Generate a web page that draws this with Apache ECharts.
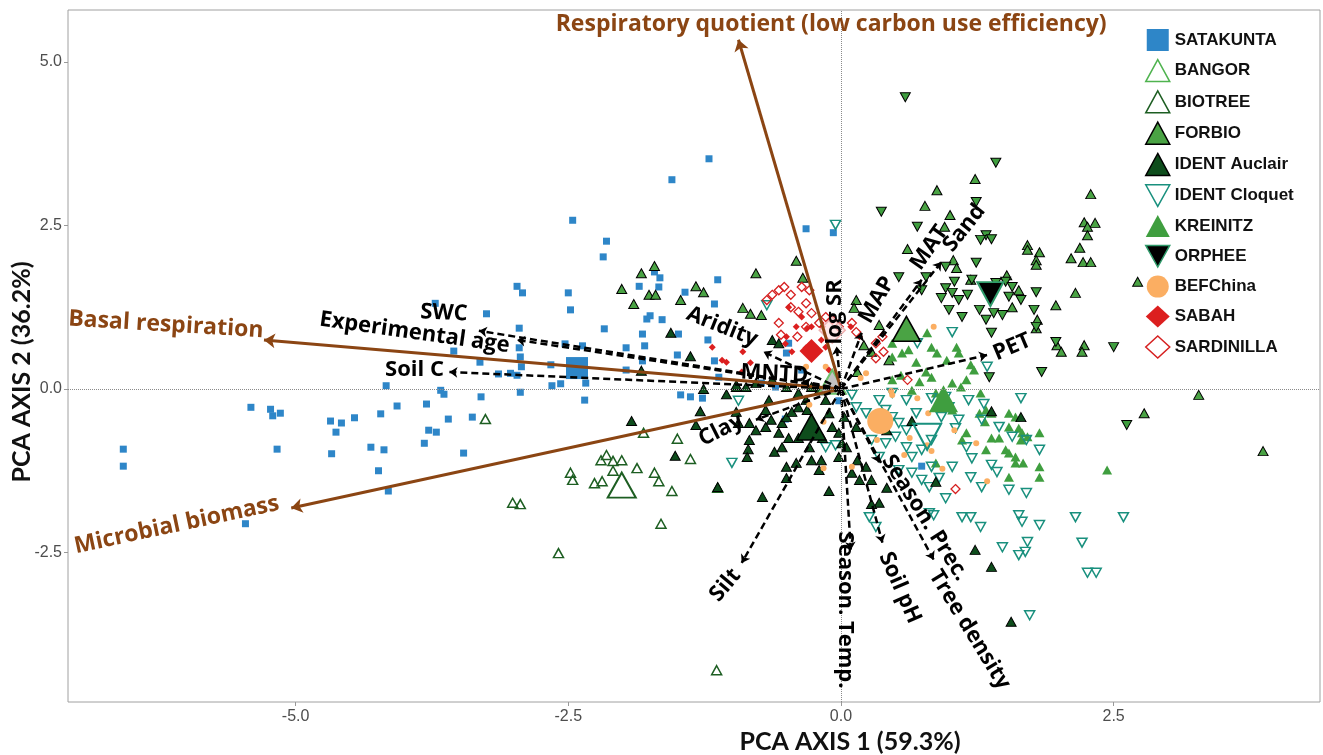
<!DOCTYPE html>
<html><head><meta charset="utf-8">
<script src="https://cdn.jsdelivr.net/npm/echarts@6/dist/echarts.min.js"></script>
<style>html,body{margin:0;padding:0;background:#fff}#c{width:1323px;height:755px}</style>
</head><body><div id="c"></div>
<script>
// ---------- data (PCA scores) ----------
const SATAKUNTA = [[-3.72,1.31],[-3.25,1.15],[-3.55,0.58],[-3.31,0.41],[-4.17,0.05],[-3.67,-0.02],[-3.64,-0.08],[-3.30,-0.12],[-5.41,-0.28],[-5.23,-0.31],[-5.21,-0.41],[-5.14,-0.37],[-4.68,-0.49],[-4.58,-0.52],[-4.63,-0.66],[-4.46,-0.44],[-4.22,-0.38],[-4.07,-0.26],[-3.80,-0.23],[-3.60,-0.46],[-3.38,-0.43],[-3.78,-0.63],[-3.71,-0.66],[-3.82,-0.83],[-3.46,-0.98],[-4.31,-0.89],[-4.19,-0.93],[-4.67,-0.99],[-5.17,-0.92],[-6.58,-0.92],[-6.58,-1.18],[-4.24,-1.25],[-4.15,-1.56],[-5.46,-2.06],[-1.21,3.52],[-1.55,3.20],[-2.46,2.58],[-2.15,2.26],[-2.18,2.02],[-2.97,1.57],[-2.92,1.47],[-2.50,1.47],[-2.48,1.21],[-2.95,0.93],[-2.17,0.92],[-1.85,1.57],[-1.71,1.79],[-1.66,1.70],[-1.67,1.56],[-1.78,1.07],[-1.75,1.12],[-1.64,1.06],[-1.82,0.84],[-1.80,0.66],[-1.97,0.63],[-1.43,1.48],[-1.13,1.67],[-1.16,1.30],[-1.49,0.84],[-1.50,0.52],[-1.22,0.75],[-1.16,0.43],[-0.32,2.45],[-0.07,2.39],[-2.95,0.63],[-2.94,0.49],[-3.14,0.23],[-3.03,0.24],[-2.97,0.21],[-2.93,0.34],[-2.66,0.37],[-2.53,0.69],[-2.37,0.66],[-2.57,0.08],[-2.65,0.05],[-2.34,0.09],[-2.94,-0.05],[-1.97,0.29],[-1.82,0.43],[-2.35,-0.17],[-1.47,-0.09],[-1.38,-0.12],[-1.27,-0.14],[-1.12,0.18],[-0.50,0.55],[-0.48,0.70],[-0.36,0.29],[-0.73,0.09],[-0.60,0.03],[-0.51,-0.46],[-0.02,-0.18],[0.74,-1.18]];
const BANGOR = [];
const BIOTREE = [[-3.26,-0.46],[-1.81,-0.67],[-1.50,-0.76],[-1.38,-1.07],[-2.15,-1.01],[-2.20,-1.09],[-2.09,-1.10],[-2.01,-1.09],[-2.48,-1.28],[-2.46,-1.39],[-2.09,-1.25],[-2.26,-1.44],[-2.19,-1.41],[-1.87,-1.21],[-1.71,-1.28],[-1.67,-1.41],[-1.55,-1.56],[-3.01,-1.74],[-2.94,-1.76],[-1.65,-2.06],[-2.59,-2.51],[-1.14,-4.30],[-1.13,-1.51]];
const FORBIO = [[-1.83,1.77],[-1.71,1.88],[-2.01,1.53],[-1.76,1.44],[-1.70,1.44],[-1.90,1.30],[-1.33,1.57],[-1.26,1.48],[-1.47,1.36],[-0.78,1.77],[-0.41,1.96],[-0.35,1.70],[-0.90,1.24],[-0.83,1.15],[-0.73,1.13],[1.23,3.21],[0.88,3.04],[0.77,2.80],[1.00,2.66],[0.95,2.48],[0.61,2.14],[2.29,2.98],[2.23,2.55],[2.33,2.54],[2.26,2.48],[2.26,2.35],[1.71,2.20],[1.71,2.13],[1.82,2.09],[1.79,1.97],[1.79,1.90],[2.19,2.16],[2.11,2.00],[2.22,1.94],[2.29,1.94],[1.03,1.97],[1.06,1.85],[1.52,1.74],[1.63,1.51],[1.57,1.25],[1.97,1.28],[2.15,1.47],[2.72,1.64],[0.14,1.36],[0.12,1.24],[0.35,0.98],[1.19,1.67],[2.23,0.67],[2.21,0.57],[1.98,0.67],[2.02,0.57],[3.28,-0.09],[1.80,1.06],[1.79,0.93],[2.78,-0.37],[3.87,-0.95],[0.21,0.67],[0.28,0.57],[0.44,0.44],[0.15,0.26]];
const IDENT_AUCLAIR = [[-1.56,0.86],[-1.38,0.50],[-1.83,0.28],[-1.26,0.00],[-1.92,-0.49],[-1.33,-0.55],[-1.29,-0.34],[-1.05,-0.08],[-0.96,0.03],[-1.52,-1.02],[-1.13,-1.50],[-0.85,-0.92],[-0.72,-1.65],[-0.11,-1.56],[-0.94,-0.52],[-0.84,-0.52],[-0.78,-0.63],[-0.69,-0.58],[-0.64,-0.47],[-0.54,-0.52],[-0.50,-0.43],[-0.45,-0.35],[-0.39,-0.28],[-0.32,-0.17],[-0.20,-0.02],[-0.31,-0.32],[-0.57,-0.67],[-0.54,-0.89],[-0.61,-0.96],[-0.84,-0.78],[-0.86,-1.04],[-0.50,-1.19],[-0.50,-1.36],[-0.41,-1.13],[-0.27,-1.09],[-0.18,-1.09],[-0.20,-1.24],[-0.29,-0.89],[-0.17,-0.75],[-0.08,-0.58],[-0.02,-0.67],[0.01,-0.83],[-0.02,-1.04],[0.05,-0.89],[0.15,-1.09],[0.10,-1.28],[0.17,-1.39],[0.23,-1.19],[0.28,-1.39],[0.35,-1.74],[-0.11,-0.37],[-0.69,-0.32],[-0.66,-0.17],[-0.96,-0.35],[-0.48,-0.75],[-0.39,-0.75],[-0.14,-0.17],[0.03,-0.43],[0.14,-0.58],[0.35,-0.55],[0.42,-0.63],[1.38,-0.34],[1.65,-0.43],[1.23,-2.46],[1.38,-2.72],[1.56,-3.56],[0.42,-1.51],[0.28,-1.76],[0.87,-1.42],[0.65,-0.49],[-0.96,0.06],[-0.87,0.03],[-0.78,0.09],[-0.63,0.14],[-0.50,0.03],[-0.39,-0.06],[-0.27,0.03],[-0.63,0.75],[-0.57,0.70]];
const IDENT_CLOQUET = [[-0.05,2.51],[-0.68,1.28],[0.70,0.70],[1.02,0.87],[1.34,0.34],[-1.00,-1.13],[-0.94,-0.18],[-0.05,-0.86],[-0.14,-0.89],[0.26,-1.96],[0.32,-2.11],[0.14,-0.28],[0.23,-0.37],[0.35,-0.17],[0.41,-0.32],[0.47,-0.43],[0.53,-0.52],[0.60,-0.63],[0.50,-0.73],[0.41,-0.83],[0.60,-0.89],[0.65,-1.04],[0.74,-0.93],[0.83,-0.78],[0.28,-0.78],[0.35,-1.04],[0.53,-1.24],[0.65,-1.28],[0.74,-1.39],[0.81,-1.50],[0.83,-1.19],[0.81,-1.90],[0.10,-0.09],[0.83,-0.14],[0.96,-0.12],[1.17,-0.17],[1.29,-0.47],[1.45,-0.58],[1.57,-0.73],[1.82,-0.93],[1.65,-0.14],[0.99,-0.28],[1.08,-0.47],[0.69,-0.37],[0.60,-0.17],[0.47,-0.06],[1.31,-0.23],[0.92,-0.43],[1.05,-0.60],[1.15,-0.89],[1.20,-1.06],[1.38,-1.16],[1.43,-1.27],[1.70,-0.78],[1.02,-1.19],[1.19,-1.35],[1.29,-1.50],[1.54,-1.54],[1.70,-1.59],[0.90,-1.36],[0.96,-1.67],[1.11,-1.96],[1.19,-1.96],[1.28,-2.11],[1.63,-1.93],[1.66,-2.03],[1.82,-2.08],[1.48,-2.42],[1.71,-2.34],[1.69,-2.49],[1.63,-2.54],[2.15,-1.96],[2.59,-1.96],[2.21,-2.35],[2.26,-2.81],[2.34,-2.81],[1.73,-3.46],[0.85,-1.93]];
const KREINITZ = [[0.47,0.70],[0.56,0.55],[0.62,0.60],[0.79,0.86],[0.83,0.64],[0.88,0.55],[1.06,0.64],[1.08,0.55],[1.19,0.37],[1.22,0.29],[0.97,0.44],[0.78,0.26],[0.83,0.18],[0.69,0.41],[1.02,0.09],[1.10,0.03],[1.15,0.14],[1.28,-0.06],[1.33,-0.32],[1.38,-0.37],[1.54,-0.37],[1.60,-0.43],[1.63,-0.60],[1.66,-0.67],[1.71,-0.73],[1.82,-0.67],[1.27,-0.37],[0.47,0.49],[0.55,0.21],[0.47,0.14],[0.65,-0.02],[0.72,0.11],[0.87,-0.06],[1.54,-0.98],[1.60,-1.04],[1.38,-0.75],[1.15,-0.67],[1.54,-0.58],[1.45,-0.75],[1.51,-0.93],[1.65,-0.78],[1.33,-0.93],[1.60,-1.13],[1.67,-1.13],[1.82,-1.19],[1.82,-1.35],[1.54,-1.35],[1.32,-0.50],[1.11,-0.78],[1.02,-0.32],[0.96,-0.28],[0.87,-1.13],[2.44,-1.24]];
const ORPHEE = [[0.59,4.46],[1.42,3.46],[0.37,2.71],[0.70,2.48],[1.24,2.86],[1.33,2.35],[1.38,2.29],[1.28,2.28],[0.53,1.71],[0.74,1.51],[1.04,1.64],[0.96,1.54],[1.24,1.93],[1.08,1.36],[1.16,1.44],[0.99,1.21],[1.11,1.10],[1.27,1.21],[1.33,1.06],[1.40,1.16],[1.48,1.13],[1.42,1.62],[1.51,1.64],[1.57,1.56],[1.79,1.48],[1.77,1.21],[1.79,0.95],[1.38,0.86],[1.97,0.72],[2.50,0.64],[1.84,0.26],[1.36,0.18],[0.92,1.39],[1.02,1.47],[0.96,1.87],[0.78,1.71],[1.20,1.67],[1.54,1.41],[1.65,1.36],[2.62,-0.55]];
const BEFCHINA = [[0.85,0.95],[0.23,0.24],[0.18,0.17],[0.46,-0.03],[-0.29,-0.24],[-0.16,-0.50],[-0.16,-1.21],[0.79,-0.86],[1.24,-0.83],[-0.14,0.34],[-0.32,0.34],[0.33,-0.78],[0.63,-0.75],[0.83,-0.95],[0.93,-1.22],[1.34,-1.41],[0.80,-0.37],[0.70,-0.14],[0.47,-0.09],[0.10,-1.19],[0.58,-1.01],[1.04,-0.63]];
const SABAH = [[-0.48,1.25],[-0.36,1.10],[-0.31,0.93],[-0.41,0.95],[-0.27,0.95],[-0.17,0.95],[-0.50,0.80],[-0.32,0.63],[-0.18,0.75],[-0.14,0.64],[0.09,0.95],[0.17,0.80],[-1.09,0.44],[-1.05,0.41],[-0.83,0.40],[-0.91,0.26],[-1.18,0.64],[-0.90,0.57],[-0.51,0.69],[-0.45,0.57],[-0.11,0.29]];
const SARDINILLA = [[-0.68,1.36],[-0.63,1.44],[-0.57,1.51],[-0.52,1.56],[-0.46,1.44],[-0.36,1.56],[-0.29,1.51],[-0.46,1.25],[-0.39,1.18],[-0.32,1.31],[-0.27,1.16],[-0.20,1.01],[-0.14,1.10],[-0.08,1.06],[-0.57,1.01],[-0.55,0.83],[-0.40,0.80],[-0.02,0.95],[0.10,1.01],[0.14,0.87],[0.32,0.70],[0.38,0.80],[0.39,0.57],[0.32,0.47],[-0.32,0.95],[0.61,0.14],[-0.29,0.64],[1.05,-1.53]];

// site centroids
const CENTROID_NAMES = ['SATAKUNTA','BANGOR','BIOTREE','FORBIO','IDENT Auclair','IDENT Cloquet','KREINITZ','ORPHEE','BEFChina','SABAH','SARDINILLA'];
const CENTROIDS = [[-2.42,0.32],[-0.08,0.11],[-2.01,-1.47],[0.60,0.92],[-0.27,-0.58],[0.79,-0.73],[0.94,-0.15],[1.37,1.45],[0.36,-0.49],[-0.27,0.58],[-0.08,0.90]];

// loadings (arrow tips)
const RESPONSE_NAMES = ['Respiratory quotient (low carbon use efficiency)','Basal respiration','Microbial biomass'];
const RESPONSE_TIPS = [[-0.94,5.34],[-5.29,0.75],[-5.04,-1.82]];
const DRIVER_NAMES = ['SWC','Experimental age','Soil C','Aridity','MNTD','log SR','MAP','MAT','Sand','PET','Clay','Silt','Season. Temp.','Soil pH','Season. Prec.','Tree density'];
const DRIVER_TIPS = [[-3.32,0.89],[-2.97,0.75],[-3.59,0.26],[-0.71,0.57],[-0.35,0.12],[-0.04,0.65],[0.19,0.86],[0.74,1.67],[0.92,1.94],[1.34,0.52],[-0.78,-0.47],[-0.91,-2.66],[0.09,-2.46],[0.38,-2.35],[0.35,-1.12],[0.85,-2.61]];

const X_TICKS = [-5, -2.5, 0, 2.5];
const Y_TICKS = [-2.5, 0, 2.5, 5];

// ---------- layout (label placement, not data) ----------
const RESPONSE_LABEL_LAYOUT = [[-0.09,5.58,0],[-6.19,0.98,-0.06],[-6.09,-2.08,0.21]];
const DRIVER_LABEL_LAYOUT = [[-3.64,1.16,-0.05],[-3.91,0.86,-0.14],[-3.91,0.29,0],[-1.09,0.95,-0.38],[-0.61,0.23,-0.05],[-0.06,1.18,1.5708],[0.33,1.36,1.05],[0.81,2.16,0.96],[1.13,2.46,0.9],[1.57,0.64,0.4],[-1.10,-0.63,0.47],[-1.06,-3.00,0.87],[0.04,-3.38,-1.5708],[0.54,-3.04,-1.16],[0.77,-1.97,-1.01],[1.18,-3.68,-1.02]];

const BROWN = '#8b4513';
const T = 'rgba(255,255,255,0)';
const STY = {
  'SATAKUNTA':     {symbol:'rect', rot:0, size:7, c:{color:'#2e86c8'}, cs:22, cc:{color:'#2e86c8'}, lg:{color:'#2e86c8'}},
  'BANGOR':        {symbol:'triangle', rot:0, size:9, c:{color:T,borderColor:'#5cb85c',borderWidth:1.5}, cs:[27,24], cc:{color:'rgba(175,175,175,0.75)',borderColor:'#6cc06a',borderWidth:2}, lg:{color:'#fff',borderColor:'#4fb34f',borderWidth:1.5}},
  'BIOTREE':       {symbol:'triangle', rot:0, size:[10,9], c:{color:T,borderColor:'#1d5e22',borderWidth:1.5}, cs:[28,25], cc:{color:T,borderColor:'#1d5e22',borderWidth:2}, lg:{color:'#fff',borderColor:'#1d5e22',borderWidth:1.5}},
  'FORBIO':        {symbol:'triangle', rot:0, size:[10,9], c:{color:'#4aa344',borderColor:'#000',borderWidth:1}, cs:[28,25], cc:{color:'#4aa344',borderColor:'#000',borderWidth:1.5}, lg:{color:'#4aa344',borderColor:'#000',borderWidth:1.5}},
  'IDENT Auclair': {symbol:'triangle', rot:0, size:[10,9], c:{color:'#0e4d1c',borderColor:'#000',borderWidth:1}, cs:[29,26], cc:{color:'#0e4d1c',borderColor:'#000',borderWidth:1.5}, lg:{color:'#0e4d1c',borderColor:'#000',borderWidth:1.5}},
  'IDENT Cloquet': {symbol:'triangle', rot:180, size:[10,9], c:{color:T,borderColor:'#19907e',borderWidth:1.5}, cs:[28,26], cc:{color:T,borderColor:'#19907e',borderWidth:2}, lg:{color:'#fff',borderColor:'#19907e',borderWidth:1.5}},
  'KREINITZ':      {symbol:'triangle', rot:0, size:[10,9], c:{color:'#3f9e3f'}, cs:[29,27], cc:{color:'#3f9e3f'}, lg:{color:'#3f9e3f'}},
  'ORPHEE':        {symbol:'triangle', rot:180, size:[10,9], c:{color:'#3f9e3f',borderColor:'#000',borderWidth:1}, cs:[26,24], cc:{color:'#000',borderColor:'#2f9a6a',borderWidth:2}, lg:{color:'#000',borderColor:'#2f9a6a',borderWidth:1.5}},
  'BEFChina':      {symbol:'circle', rot:0, size:6, c:{color:'#fbae62'}, cs:26, cc:{color:'#fbae62'}, lg:{color:'#fbae62'}},
  'SABAH':         {symbol:'diamond', rot:0, size:7, c:{color:'#dc1f1f'}, cs:24, cc:{color:'#dc1f1f'}, lg:{color:'#dc1f1f'}},
  'SARDINILLA':    {symbol:'diamond', rot:0, size:9, c:{color:T,borderColor:'#d62020',borderWidth:1.3}, cs:26, cc:{color:'rgba(255,225,225,0.7)',borderColor:'#f0b4b4',borderWidth:1.5}, lg:{color:'#fff',borderColor:'#d62020',borderWidth:1.5}}
};
const GROUP_DATA = {'SATAKUNTA':SATAKUNTA,'BANGOR':BANGOR,'BIOTREE':BIOTREE,'FORBIO':FORBIO,'IDENT Auclair':IDENT_AUCLAIR,'IDENT Cloquet':IDENT_CLOQUET,'KREINITZ':KREINITZ,'ORPHEE':ORPHEE,'BEFChina':BEFCHINA,'SABAH':SABAH,'SARDINILLA':SARDINILLA};
const DRAW_ORDER = ['BIOTREE','SATAKUNTA','FORBIO','ORPHEE','KREINITZ','IDENT Cloquet','IDENT Auclair','BANGOR','BEFChina','SABAH','SARDINILLA'];

const op = s => Object.assign({opacity:1}, s);
const series = [];
series.push({type:'scatter', name:'_ref', data:[], silent:true, z:1,
  markLine:{silent:true, symbol:['none','none'], label:{show:false}, animation:false,
    lineStyle:{type:'dotted', color:'#8a8a8a', width:1},
    data:[{xAxis:0},{yAxis:0}]}});
DRAW_ORDER.forEach(n => {
  const s = STY[n];
  series.push({type:'scatter', name:n, data:GROUP_DATA[n], symbol:s.symbol, symbolRotate:s.rot, symbolSize:s.size,
    itemStyle:op(s.c), z:2, silent:true, animation:false});
});
CENTROID_NAMES.forEach((n,i) => {
  const s = STY[n];
  series.push({type:'scatter', name:n+' centroid', data:[CENTROIDS[i]], symbol:s.symbol, symbolRotate:s.rot, symbolSize:s.cs,
    itemStyle:op(s.cc), z:3, silent:true, animation:false});
});
series.push({type:'lines', coordinateSystem:'cartesian2d', z:4, silent:true, animation:false,
  symbol:['none','arrow'], symbolSize:11,
  lineStyle:{color:BROWN, width:3, opacity:1},
  data: RESPONSE_TIPS.map(t => ({coords:[[0,0],t]}))});
series.push({type:'lines', coordinateSystem:'cartesian2d', z:4, silent:true, animation:false,
  symbol:['none','arrow'], symbolSize:8,
  lineStyle:{color:'#000', width:2.5, type:[7,4], opacity:1},
  data: DRIVER_TIPS.map(t => ({coords:[[0,0],t]}))});

function labelSeries(names, layout, color, font){
  return {type:'custom', z:5, silent:true, animation:false,
    data: layout.map((l,i) => [l[0], l[1], l[2], i]),
    renderItem: function(params, api){
      const p = api.coord([api.value(0), api.value(1)]);
      return {type:'text', x:p[0], y:p[1], rotation:api.value(2),
        style:{text:names[api.value(3)], fill:color, font:font,
          align:'center', verticalAlign:'middle', textAlign:'center', textVerticalAlign:'middle'}};
    }};
}
series.push(labelSeries(RESPONSE_NAMES, RESPONSE_LABEL_LAYOUT, BROWN, 'bold 23px "Open Sans"'));
series.push(labelSeries(DRIVER_NAMES, DRIVER_LABEL_LAYOUT, '#000', 'bold 22px "Open Sans"'));

const legendData = CENTROID_NAMES.map(n => {
  const s = STY[n];
  let ic = s.symbol;
  if (s.rot === 180) ic = 'path://M0,0 L10,0 L5,9 Z';
  if (n === 'SATAKUNTA') ic = 'path://M3,2 L21,2 L21,20 L3,20 Z';
  return {name:n, icon:ic, itemStyle: Object.assign({borderWidth:0, borderColor:'transparent', opacity:1}, s.lg)};
});

const chart = echarts.init(document.getElementById('c'), null, {renderer:'canvas'});
chart.setOption({
  animation:false,
  backgroundColor:'#fff',
  grid:{left:68, right:3, top:10, bottom:53, show:true, borderColor:'#a0a0a0', borderWidth:1, backgroundColor:'transparent'},
  xAxis:{type:'value', min:-7.087, max:4.392, splitLine:{show:false}, axisLine:{show:false, onZero:false},
    axisTick:{show:true, customValues:X_TICKS, length:4, lineStyle:{color:'#999'}},
    axisLabel:{customValues:X_TICKS, formatter:v => v.toFixed(1), color:'#4d4d4d', fontSize:16, fontFamily:'Liberation Sans', margin:7}},
  yAxis:{type:'value', min:-4.786, max:5.795, splitLine:{show:false}, axisLine:{show:false, onZero:false},
    axisTick:{show:true, customValues:Y_TICKS, length:4, lineStyle:{color:'#999'}},
    axisLabel:{customValues:Y_TICKS, formatter:v => v.toFixed(1), color:'#4d4d4d', fontSize:16, fontFamily:'Liberation Sans', margin:6}},
  legend:{orient:'vertical', left:1145, top:29, padding:0, itemWidth:24, itemHeight:22, itemGap:7.8, selectedMode:false,
    data:legendData, textStyle:{fontFamily:'Liberation Sans', fontWeight:'bold', fontSize:17, color:'#111'}},
  graphic:[
    {type:'text', x:850, y:742, z:10, style:{text:'PCA AXIS 1 (59.3%)', font:'bold 25px Lato', fill:'#111', align:'center', verticalAlign:'middle', textAlign:'center', textVerticalAlign:'middle'}},
    {type:'text', x:22, y:372, rotation:Math.PI/2, z:10, style:{text:'PCA AXIS 2 (36.2%)', font:'bold 25px Lato', fill:'#111', align:'center', verticalAlign:'middle', textAlign:'center', textVerticalAlign:'middle'}}
  ],
  series:series
});
</script></body></html>
